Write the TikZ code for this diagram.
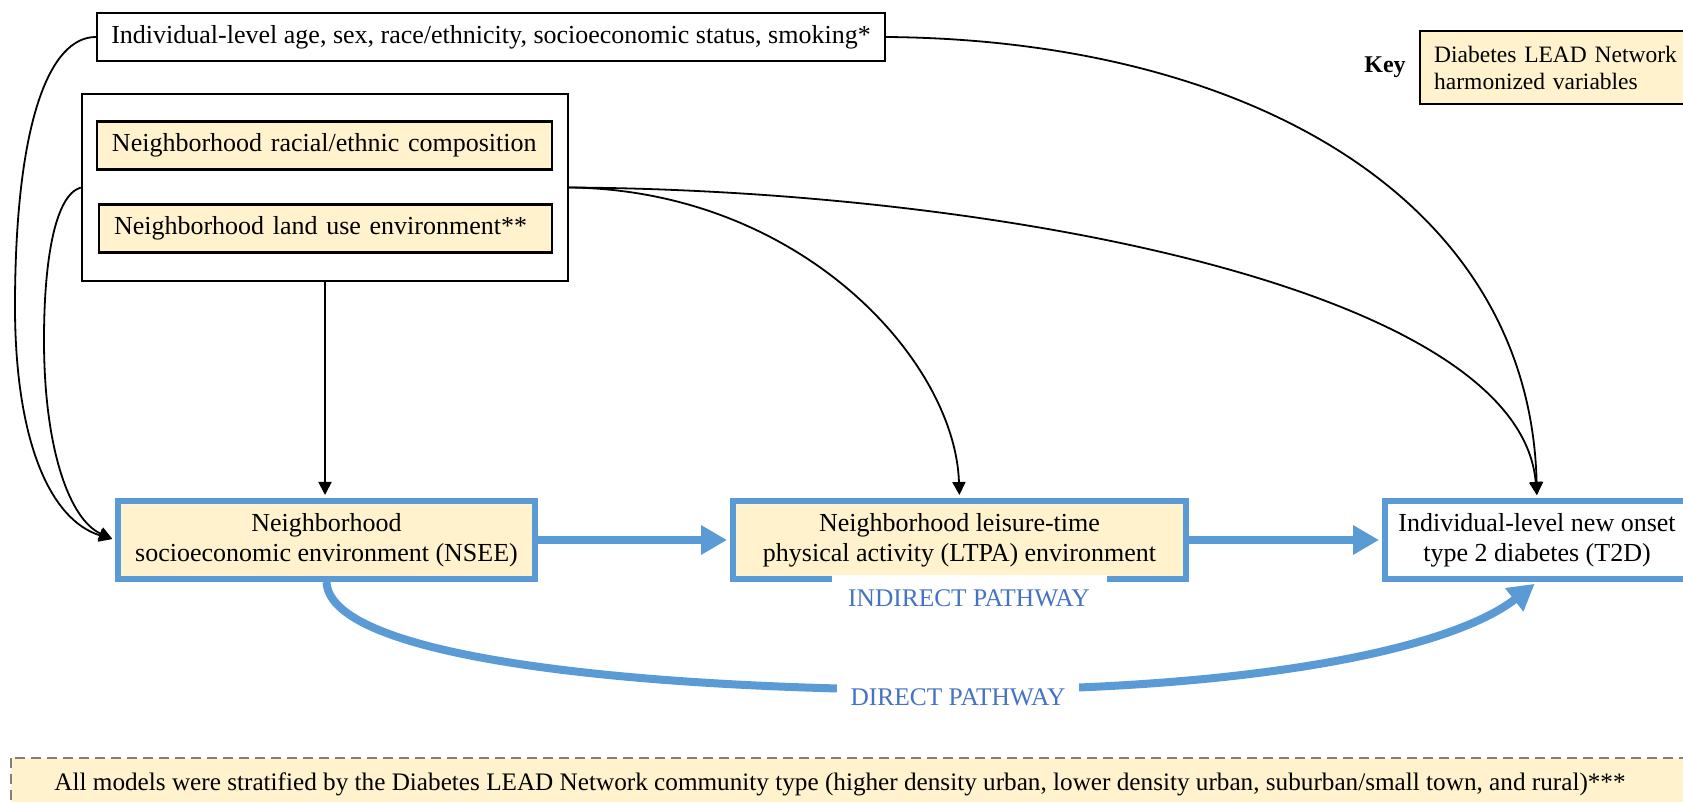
\documentclass[tikz,border=0pt]{standalone}
\usepackage{fontspec}
\setmainfont{Liberation Serif}
\usetikzlibrary{arrows.meta}
\definecolor{tan}{HTML}{FFF2CC}
\definecolor{pblue}{HTML}{5B9BD5}
\definecolor{lblue}{HTML}{4472C4}
\definecolor{dgray}{HTML}{7F7F7F}
\tikzset{
  bbox/.style={draw, line width=1.2pt, inner sep=0pt},
  tanbox/.style={draw, line width=1.2pt, fill=tan, inner ysep=0pt, inner xsep=7.5pt, align=left, font=\fontsize{13}{15}\selectfont},
  bluebox/.style={draw=pblue, line width=3pt, align=center, inner sep=0pt, minimum height=39pt, font=\fontsize{13}{15}\selectfont},
  conn/.style={line width=0.9pt, -{Triangle[length=6.5pt,width=6.5pt]}},
  pathw/.style={draw=pblue, line width=4pt, -{Triangle[length=13pt,width=14pt]}},
  plabel/.style={fill=white, text=lblue, font=\fontsize{12.7}{14}\selectfont, inner sep=0pt},
}
\begin{document}
\begin{tikzpicture}[x=0.5pt,y=-0.5pt]
\useasboundingbox (0,0) rectangle (1683,802);
\clip (0,0) rectangle (1683,802);
\fill[white] (0,0) rectangle (1683,802);

% bottom note
\path[draw=dgray, dash pattern=on 5pt off 3pt, fill=tan, line width=1pt] (11,758) rectangle (1720,840);
\node[font=\fontsize{12.6}{14}\selectfont] (note) at (840,784) {All models were stratified by the Diabetes LEAD Network community type (higher density urban, lower density urban, suburban/small town, and rural)***};

% top boxes
\node[bbox, minimum width=394pt, minimum height=24pt, font=\fontsize{13}{15}\selectfont] (top) at (491,37) {Individual-level age, sex, race/ethnicity, socioeconomic status, smoking*};
\node[bbox, minimum width=243pt, minimum height=93.5pt] (group) at (325,187.5) {};
\node[tanbox, minimum height=24pt, text width=212.5pt] (racial) at (324.5,145.5) {Neighborhood racial/ethnic composition};
\node[tanbox, minimum height=24pt, text width=211.5pt] (land) at (325.5,228.5) {Neighborhood land use environment**};

% key
\node[font=\bfseries\fontsize{12}{14}\selectfont] (keylbl) at (1385,67) {Key};
\node[draw, line width=1.2pt, fill=tan, anchor=west, text width=132pt, inner xsep=7pt, minimum height=36.5pt, align=left, font=\fontsize{11.75}{13.5}\selectfont] (key) at (1419,67.5) {Diabetes LEAD Network\\harmonized variables};

% main boxes
\node[bluebox, fill=tan, minimum width=208.5pt] (nsee) at (326.5,540) {Neighborhood\\socioeconomic environment (NSEE)};
\node[bluebox, fill=tan, minimum width=226.5pt] (ltpa) at (959.5,540) {Neighborhood leisure-time\\physical activity (LTPA) environment};
\node[bluebox, fill=white, minimum width=152pt] (t2d) at (1537,540) {Individual-level new onset\\type 2 diabetes (T2D)};

% black connectors
\draw[conn, shorten >=1.5pt] (top.west) .. controls (50,37) and (16,120) .. (15,300) .. controls (14,440) and (50,520) .. (nsee.west);
\draw[conn, shorten >=1.5pt] (group.west) .. controls (55,195) and (44,260) .. (44,340) .. controls (44,450) and (70,520) .. (nsee.west);
\draw[conn, shorten >=1.5pt] (group.south) -- (group.south |- nsee.north);
\draw[conn, shorten >=1.5pt] (group.east) .. controls (800,190) and (955,360) .. (ltpa.north);
\draw[conn, shorten >=1.5pt] (group.east) .. controls (1000,190) and (1520,290) .. (t2d.north);
\draw[conn, shorten >=1.5pt] (top.east) .. controls (1250,40) and (1530,200) .. (t2d.north);

% blue pathways
\draw[pathw, shorten >=1.5pt] (nsee.east) -- (ltpa.west);
\draw[pathw, shorten >=1.5pt] (ltpa.east) -- (t2d.west);
\draw[pathw, shorten >=1.5pt] (nsee.south) .. controls (330,660) and (650,690) .. (955,690) .. controls (1250,690) and (1450,650) .. (t2d.south);

\node[plabel, minimum width=137.5pt, minimum height=23pt] (ind) at (969,598) {INDIRECT PATHWAY};
\node[plabel, minimum width=121pt, minimum height=20pt] (dir) at (958,697) {DIRECT PATHWAY};
\end{tikzpicture}
\end{document}
